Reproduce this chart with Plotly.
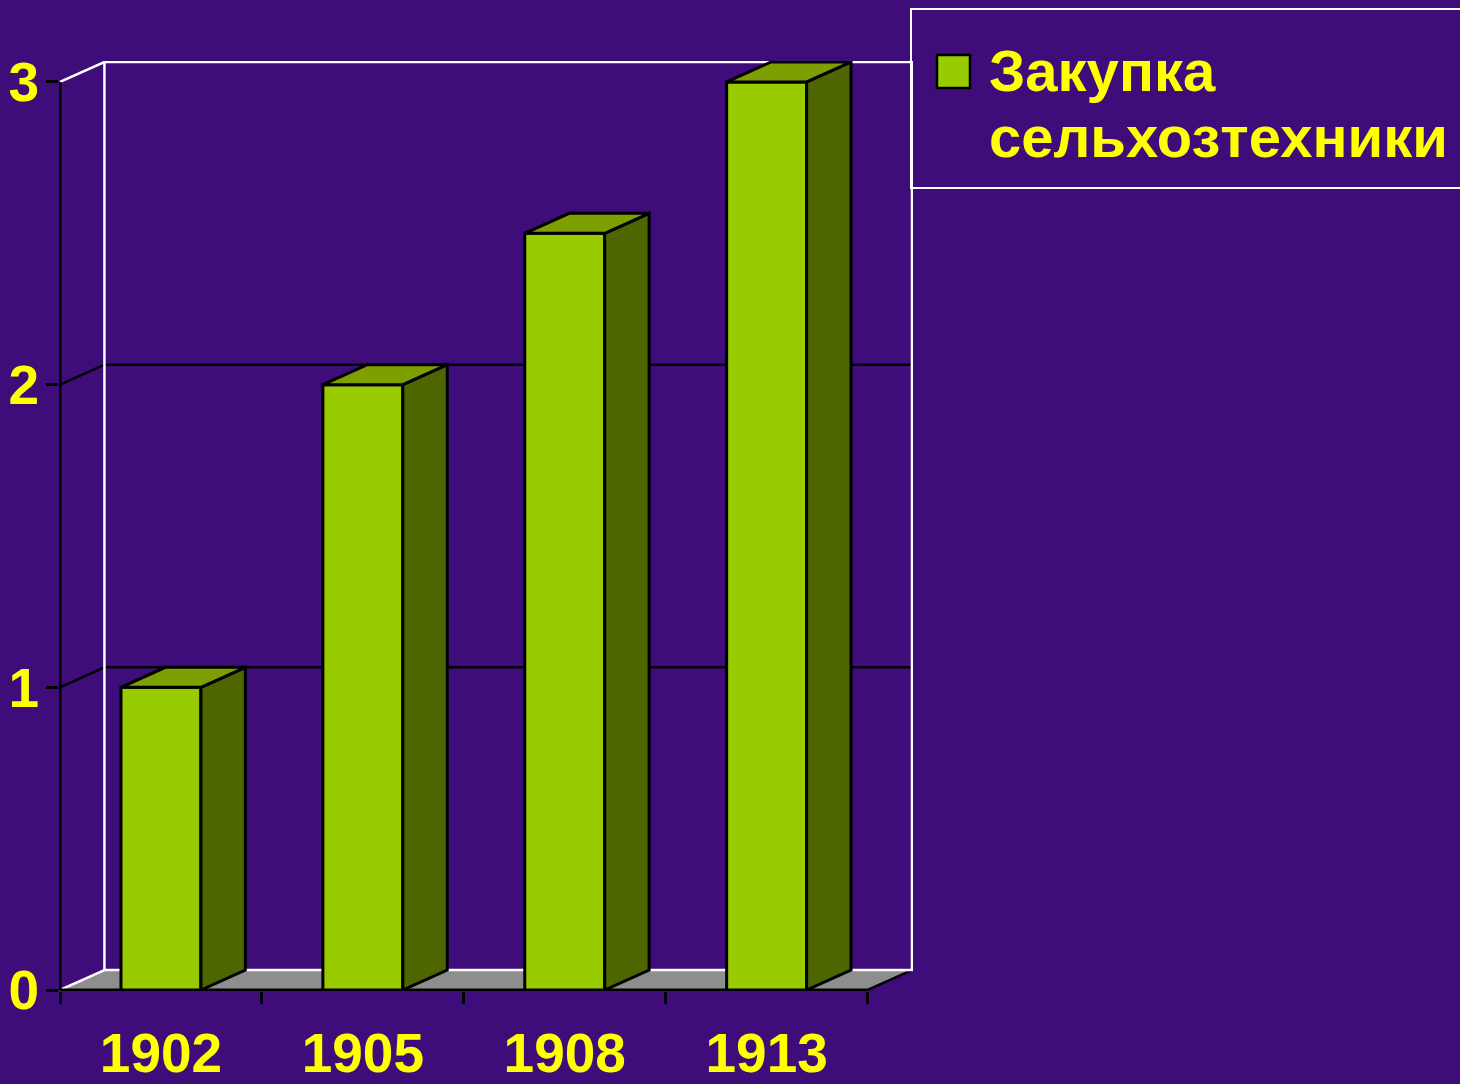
import plotly.graph_objects as go

# ---- data -------------------------------------------------------------
years = ["1902", "1905", "1908", "1913"]
purchases = [1, 2, 2.5, 3]
y_tick_values = [0, 1, 2, 3]
y_tick_labels = ["0", "1", "2", "3"]
series_name = "Закупка<br>сельхозтехники"

# ---- style ------------------------------------------------------------
BG = "#3e0d7a"
FRONT = "#99cc00"
SIDE = "#4d6600"
TOP = "#7d9f00"
FLOOR = "#8e8e8e"
TEXT = "#ffff00"
FONT = "Arial, Liberation Sans, sans-serif"

W, H = 1460, 1084
DX = 0.22      # depth offset along x (category units)
DY = 0.066     # depth offset along y (value units)
HALF_W = 0.198  # half bar width (category units)
PAD_X = 0.005
PAD_Y = 0.0033

n = len(years)
x_left, x_right = -0.5, n - 0.5
y_top = max(y_tick_values)

fig = go.Figure()


def poly(xs, ys, fill=None, color="black", width=3):
    xs = list(xs) + [xs[0]]
    ys = list(ys) + [ys[0]]
    fig.add_trace(go.Scatter(
        x=xs, y=ys, mode="lines",
        fill="toself" if fill else None,
        fillcolor=fill,
        line=dict(color=color, width=width),
        hoverinfo="skip", showlegend=False,
    ))


def line(xs, ys, color="black", width=2.5):
    fig.add_trace(go.Scatter(
        x=xs, y=ys, mode="lines",
        line=dict(color=color, width=width),
        hoverinfo="skip", showlegend=False,
    ))


# floor
poly([x_left, x_right, x_right + DX, x_left + DX],
     [0, 0, DY, DY], fill=FLOOR, color=FLOOR, width=0.5)
line([x_left, x_left + DX], [0, DY], color="white")
line([x_right, x_right + DX], [0, DY], color="black")

# gridlines on the side and back walls
for v in y_tick_values[1:-1]:
    line([x_left, x_left + DX, x_right + DX], [v, v + DY, v + DY], color="black")

# back wall outline
line([x_left, x_left + DX], [y_top, y_top + DY], color="white")
poly([x_left + DX, x_left + DX, x_right + DX, x_right + DX],
     [DY, y_top + DY, y_top + DY, DY], color="white", width=2.5)

# front axis lines
line([x_left, x_left], [0, y_top], color="black", width=3)
line([x_left, x_right], [0, 0], color="black", width=3)

# 3D bars: front, side and top faces
for i, v in enumerate(purchases):
    l, r = i - HALF_W, i + HALF_W
    poly([l, r, r, l], [0, 0, v, v], fill=FRONT)
    poly([r, r + DX, r + DX, r], [0, DY, v + DY, v], fill=SIDE)
    poly([l, r, r + DX, l + DX], [v, v, v + DY, v + DY], fill=TOP)

tick_font = dict(family=FONT, size=55, color=TEXT, weight=700)

fig.update_xaxes(
    range=[x_left - PAD_X, x_right + DX + PAD_X],
    tickmode="array", tickvals=list(range(n)), ticktext=years,
    ticks="", showgrid=False, zeroline=False, showline=False,
    tickfont=tick_font, ticklabelstandoff=25, automargin=False,
    minor=dict(tickmode="array",
               tickvals=[k - 0.5 for k in range(n + 1)],
               ticks="outside", ticklen=12, tickwidth=2.5,
               tickcolor="black", showgrid=False),
)
fig.update_yaxes(
    range=[-PAD_Y, y_top + DY + PAD_Y],
    tickmode="array", tickvals=y_tick_values, ticktext=y_tick_labels,
    ticks="outside", ticklen=12, tickwidth=2.5, tickcolor="black",
    showgrid=False, zeroline=False, showline=False,
    tickfont=tick_font, ticklabelstandoff=-4, automargin=False,
)

# ---- legend box (drawn in pixel space converted to paper units) --------
ML, MR, MT, MB = 59, 547, 61, 93
PW, PH = W - ML - MR, H - MT - MB


def px(x):
    return (x - ML) / PW


def py(y):
    return (H - MB - y) / PH


fig.add_shape(type="rect", xref="paper", yref="paper",
              x0=px(911), x1=px(1475), y0=py(188), y1=py(9),
              line=dict(color="white", width=2))
fig.add_shape(type="rect", xref="paper", yref="paper",
              x0=px(937), x1=px(970), y0=py(88), y1=py(55),
              fillcolor=FRONT, line=dict(color="black", width=2.5))
for k, txt in enumerate(series_name.split("<br>")):
    fig.add_annotation(xref="paper", yref="paper",
                       x=px(987), y=py(71 + 65 * k),
                       xanchor="left", yanchor="middle",
                       text=txt, showarrow=False,
                       font=dict(family=FONT, size=58, color=TEXT, weight=700))

fig.update_layout(
    width=W, height=H,
    margin=dict(l=ML, r=MR, t=MT, b=MB, pad=0, autoexpand=False),
    paper_bgcolor=BG, plot_bgcolor="rgba(0,0,0,0)",
    showlegend=False,
)

fig.write_html("out.html")
